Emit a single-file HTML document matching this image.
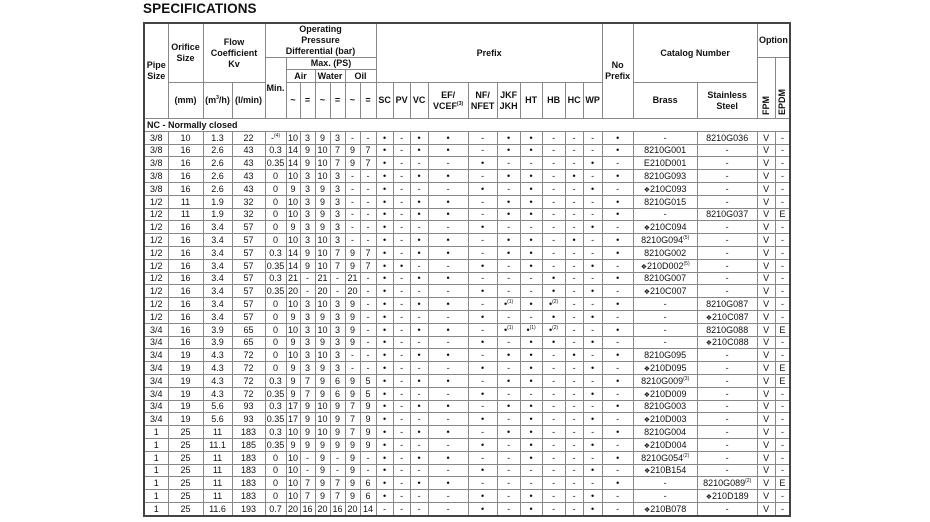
<!DOCTYPE html>
<html><head><meta charset="utf-8"><style>
body{margin:0;background:#fff;width:930px;height:522px;overflow:hidden;font-family:"Liberation Sans",Arial,sans-serif;color:#111}
h1{position:absolute;left:143px;top:1px;margin:0;font-size:13.5px;font-weight:bold;letter-spacing:0.1px}
table{position:absolute;left:143px;top:22px;border-collapse:collapse;table-layout:fixed;width:647px;border:2px solid #444}
td{border:1px solid #888;padding:0;text-align:center;vertical-align:middle;font-size:9px;line-height:10px;white-space:nowrap;overflow:hidden}
thead td{font-weight:bold;font-size:9px;line-height:11px}
tbody td{height:11.8px;max-height:11.8px}
tbody tr{height:12.8px}
sup{font-size:5px;line-height:0;vertical-align:4px}
.d{font-size:7px;line-height:1px}
.r{writing-mode:vertical-rl;transform:rotate(180deg);display:inline-block;font-weight:bold;vertical-align:bottom}
td.rot{vertical-align:bottom;padding-bottom:3px}
.nc{text-align:left;font-weight:bold;padding-left:2px;height:11px}
</style></head><body>
<h1>SPECIFICATIONS</h1>
<table>
<colgroup>
<col style="width:24px"><col style="width:35px"><col style="width:29px"><col style="width:33px"><col style="width:21px">
<col style="width:14px"><col style="width:15px"><col style="width:15px"><col style="width:15px"><col style="width:15px"><col style="width:16px">
<col style="width:17px"><col style="width:17px"><col style="width:18px"><col style="width:40px"><col style="width:29px"><col style="width:23px"><col style="width:22px"><col style="width:23px"><col style="width:18px"><col style="width:19px">
<col style="width:31px"><col style="width:64px"><col style="width:60px"><col style="width:18px"><col style="width:15px">
</colgroup>
<thead>
<tr style="height:34px">
<td rowspan="4">Pipe<br>Size</td>
<td rowspan="3">Orifice<br>Size</td>
<td rowspan="3" colspan="2">Flow<br>Coefficient<br>Kv</td>
<td colspan="7">Operating<br>Pressure<br>Differential (bar)</td>
<td rowspan="3" colspan="10">Prefix</td>
<td rowspan="4">No<br>Prefix</td>
<td rowspan="3" colspan="2">Catalog Number</td>
<td colspan="2">Option</td>
</tr>
<tr style="height:12px">
<td rowspan="3">Min.</td>
<td colspan="6">Max. (PS)</td>
<td rowspan="3" class="rot"><span class="r">FPM</span></td>
<td rowspan="3" class="rot"><span class="r">EPDM</span></td>
</tr>
<tr style="height:13px">
<td colspan="2">Air</td><td colspan="2">Water</td><td colspan="2">Oil</td>
</tr>
<tr style="height:36px">
<td>(mm)</td><td>(m<sup>3</sup>/h)</td><td>(l/min)</td>
<td>~</td><td>=</td><td>~</td><td>=</td><td>~</td><td>=</td>
<td>SC</td><td>PV</td><td>VC</td><td>EF/<br>VCEF<sup>(3)</sup></td><td>NF/<br>NFET</td><td>JKF<br>JKH</td><td>HT</td><td>HB</td><td>HC</td><td>WP</td>
<td>Brass</td><td>Stainless<br>Steel</td>
</tr>
</thead>
<tbody id="tb">
<tr><td colspan="26" class="nc">NC - Normally closed</td></tr>
</tbody>
</table>
<script>
var D=[
"3/8|10|1.3|22|-<sup>(4)</sup>|10|3|9|3|-|-|o|-|o|o|-|o|o|-|-|-|o|-|8210G036|V|-",
"3/8|16|2.6|43|0.3|14|9|10|7|9|7|o|-|o|o|-|o|o|-|-|-|o|8210G001|-|V|-",
"3/8|16|2.6|43|0.35|14|9|10|7|9|7|o|-|-|-|o|-|-|-|-|o|-|E210D001|-|V|-",
"3/8|16|2.6|43|0|10|3|10|3|-|-|o|-|o|o|-|o|o|-|o|-|o|8210G093|-|V|-",
"3/8|16|2.6|43|0|9|3|9|3|-|-|o|-|-|-|o|-|o|-|-|o|-|❖210C093|-|V|-",
"1/2|11|1.9|32|0|10|3|9|3|-|-|o|-|o|o|-|o|o|-|-|-|o|8210G015|-|V|-",
"1/2|11|1.9|32|0|10|3|9|3|-|-|o|-|o|o|-|o|o|-|-|-|o|-|8210G037|V|E",
"1/2|16|3.4|57|0|9|3|9|3|-|-|o|-|-|-|o|-|-|-|-|o|-|❖210C094|-|V|-",
"1/2|16|3.4|57|0|10|3|10|3|-|-|o|-|o|o|-|o|o|-|o|-|o|8210G094<sup>(5)</sup>|-|V|-",
"1/2|16|3.4|57|0.3|14|9|10|7|9|7|o|-|o|o|-|o|o|-|-|-|o|8210G002|-|V|-",
"1/2|16|3.4|57|0.35|14|9|10|7|9|7|o|o|-|-|o|-|o|-|-|o|-|❖210D002<sup>(5)</sup>|-|V|-",
"1/2|16|3.4|57|0.3|21|-|21|-|21|-|o|-|o|o|-|-|-|o|-|-|o|8210G007|-|V|-",
"1/2|16|3.4|57|0.35|20|-|20|-|20|-|o|-|-|-|o|-|-|o|-|o|-|❖210C007|-|V|-",
"1/2|16|3.4|57|0|10|3|10|3|9|-|o|-|o|o|-|o1|o|o2|-|-|o|-|8210G087|V|-",
"1/2|16|3.4|57|0|9|3|9|3|9|-|o|-|-|-|o|-|-|o|-|o|-|-|❖210C087|V|-",
"3/4|16|3.9|65|0|10|3|10|3|9|-|o|-|o|o|-|o1|o1|o2|-|-|o|-|8210G088|V|E",
"3/4|16|3.9|65|0|9|3|9|3|9|-|o|-|-|-|o|-|o|o|-|o|-|-|❖210C088|V|-",
"3/4|19|4.3|72|0|10|3|10|3|-|-|o|-|o|o|-|o|o|-|o|-|o|8210G095|-|V|-",
"3/4|19|4.3|72|0|9|3|9|3|-|-|o|-|-|-|o|-|o|-|-|o|-|❖210D095|-|V|E",
"3/4|19|4.3|72|0.3|9|7|9|6|9|5|o|-|o|o|-|o|o|-|-|-|o|8210G009<sup>(3)</sup>|-|V|E",
"3/4|19|4.3|72|0.35|9|7|9|6|9|5|o|-|-|-|o|-|-|-|-|o|-|❖210D009|-|V|-",
"3/4|19|5.6|93|0.3|17|9|10|9|7|9|o|-|o|o|-|o|o|-|-|-|o|8210G003|-|V|-",
"3/4|19|5.6|93|0.35|17|9|10|9|7|9|o|-|-|-|o|-|o|-|-|o|-|❖210D003|-|V|-",
"1|25|11|183|0.3|10|9|10|9|7|9|o|-|o|o|-|o|o|-|-|-|o|8210G004|-|V|-",
"1|25|11.1|185|0.35|9|9|9|9|9|9|o|-|-|-|o|-|o|-|-|o|-|❖210D004|-|V|-",
"1|25|11|183|0|10|-|9|-|9|-|o|-|o|o|-|-|o|-|-|-|o|8210G054<sup>(2)</sup>|-|V|-",
"1|25|11|183|0|10|-|9|-|9|-|o|-|-|-|o|-|-|-|-|o|-|❖210B154|-|V|-",
"1|25|11|183|0|10|7|9|7|9|6|o|-|o|o|-|-|-|-|-|-|o|-|8210G089<sup>(2)</sup>|V|E",
"1|25|11|183|0|10|7|9|7|9|6|o|-|-|-|o|-|o|-|-|o|-|-|❖210D189|V|-",
"1|25|11.6|193|0.7|20|16|20|16|20|14|-|-|-|-|o|-|o|-|-|o|-|❖210B078|-|V|-"
];
var h="";
D.forEach(function(r){
 var c=r.split("|");h+="<tr>";
 c.forEach(function(v,i){
  if(i>=11&&i<=21){
   if(v=="o")v="•";else if(v=="o1")v="•<sup>(1)</sup>";else if(v=="o2")v="•<sup>(2)</sup>";
  }
  v=v.replace("❖","<span class=\"d\">❖</span>");
  h+="<td>"+v+"</td>";
 });
 h+="</tr>";
});
document.getElementById("tb").insertAdjacentHTML("beforeend",h);
</script>
</body></html>
